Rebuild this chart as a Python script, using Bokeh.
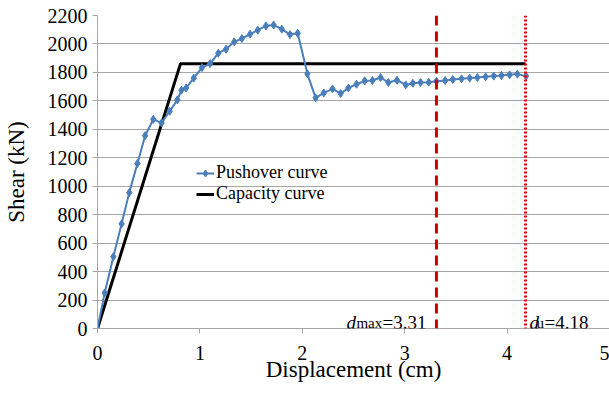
from bokeh.plotting import figure
from bokeh.models import Range1d, FixedTicker, Span, Label
from bokeh.embed import file_html
from bokeh.resources import INLINE

# ---- data ----
push_x = [0, 0.07, 0.155, 0.235, 0.31, 0.39, 0.465, 0.545, 0.625, 0.705,
          0.78, 0.82, 0.865, 0.94, 1.02, 1.10, 1.18, 1.255, 1.335, 1.41,
          1.49, 1.565, 1.645, 1.72, 1.80, 1.88, 1.955, 2.05, 2.13, 2.21,
          2.295, 2.375, 2.45, 2.53, 2.61, 2.685, 2.765, 2.84, 2.925, 3.01,
          3.08, 3.155, 3.235, 3.31, 3.395, 3.47, 3.555, 3.635, 3.71, 3.79,
          3.87, 3.945, 4.025, 4.10, 4.185]
push_y = [0, 250, 505, 735, 955, 1160, 1355, 1470, 1445, 1527,
          1607, 1675, 1690, 1760, 1834, 1862, 1935, 1963, 2015, 2038,
          2069, 2097, 2127, 2133, 2104, 2066, 2075, 1790, 1621, 1656,
          1684, 1651, 1691, 1717, 1741, 1743, 1764, 1729, 1745, 1712,
          1724, 1729, 1731, 1738, 1743, 1750, 1755, 1760, 1764, 1769,
          1774, 1778, 1783, 1788, 1774]
cap_x = [0, 0.81, 4.18]
cap_y = [0, 1860, 1860]
d_max = 3.31
d_u = 4.18
x_ticks = [0, 1, 2, 3, 4, 5]
y_ticks = [0, 200, 400, 600, 800, 1000, 1200, 1400, 1600, 1800, 2000, 2200]

FONT = "Liberation Serif"
BLUE = "#4a7ebb"
GRID = "#a6a6a6"

p = figure(width=609, height=395, output_backend="svg", toolbar_location=None,
           x_range=Range1d(0, 5), y_range=Range1d(0, 2200),
           min_border_left=97, min_border_right=0, min_border_top=15, min_border_bottom=67)
p.outline_line_color = None
p.background_fill_color = "white"
p.border_fill_color = "white"

p.xgrid.grid_line_color = None
p.ygrid.grid_line_color = GRID
p.ygrid.grid_line_width = 1
p.xaxis.ticker = FixedTicker(ticks=x_ticks)
p.yaxis.ticker = FixedTicker(ticks=y_ticks)

for ax in (p.xaxis[0], p.yaxis[0]):
    ax.axis_line_color = GRID
    ax.major_tick_line_color = GRID
    ax.minor_tick_line_color = None
    ax.major_tick_in = 0
    ax.major_tick_out = 5
    ax.major_label_text_font = FONT
    ax.major_label_text_font_size = "20px"
    ax.major_label_text_color = "black"
    ax.axis_label_text_font = FONT
    ax.axis_label_text_font_size = "23px"
    ax.axis_label_text_font_style = "normal"
    ax.axis_label_text_color = "black"

p.xaxis.axis_label = "Displacement (cm)"
p.yaxis.axis_label = "Shear (kN)"
p.xaxis.major_label_standoff = 12
p.xaxis.axis_label_standoff = -6
p.yaxis.major_label_standoff = 5
p.yaxis.axis_label_standoff = 16

# capacity curve
p.line(cap_x, cap_y, line_color="black", line_width=3, legend_label="Capacity curve")
# pushover curve
p.line(push_x, push_y, line_color=BLUE, line_width=2, legend_label="Pushover curve")
p.scatter(push_x, push_y, marker="diamond", size=8, fill_color=BLUE, line_color=BLUE,
          legend_label="Pushover curve")

# vertical limit lines
p.add_layout(Span(location=d_max, dimension="height", line_color="#d00000",
                  line_width=3, line_dash="10 6"))
p.add_layout(Span(location=d_u, dimension="height", line_color="#e00000",
                  line_width=3, line_dash="2 2"))

def lab(x, xoff, text, size, style="normal"):
    p.add_layout(Label(x=x, y=0, x_offset=xoff, y_offset=6, text=text,
                       text_font=FONT, text_font_size=size, text_font_style=style,
                       text_color="black", text_align="left", text_baseline="alphabetic"))

lab(d_max, -90, "d", "19px", "italic")
lab(d_max, -80, "max", "15px")
lab(d_max, -54, "=%.2f" % d_max, "19px")
lab(d_u, 4, "d", "19px", "italic")
lab(d_u, 11, "u", "15px")
lab(d_u, 19, "=%.2f" % d_u, "19px")

# legend
leg = p.legend[0]
leg.items = [leg.items[1], leg.items[0]]
leg.location = (99, 124)
leg.background_fill_alpha = 0
leg.border_line_color = None
leg.padding = 0
leg.margin = 0
leg.spacing = 0
leg.glyph_width = 18
leg.glyph_height = 20
leg.label_height = 20
leg.label_standoff = 2
leg.label_text_font = FONT
leg.label_text_font_size = "18px"
leg.label_text_color = "black"

open("out.html", "w").write(file_html(p, INLINE))
